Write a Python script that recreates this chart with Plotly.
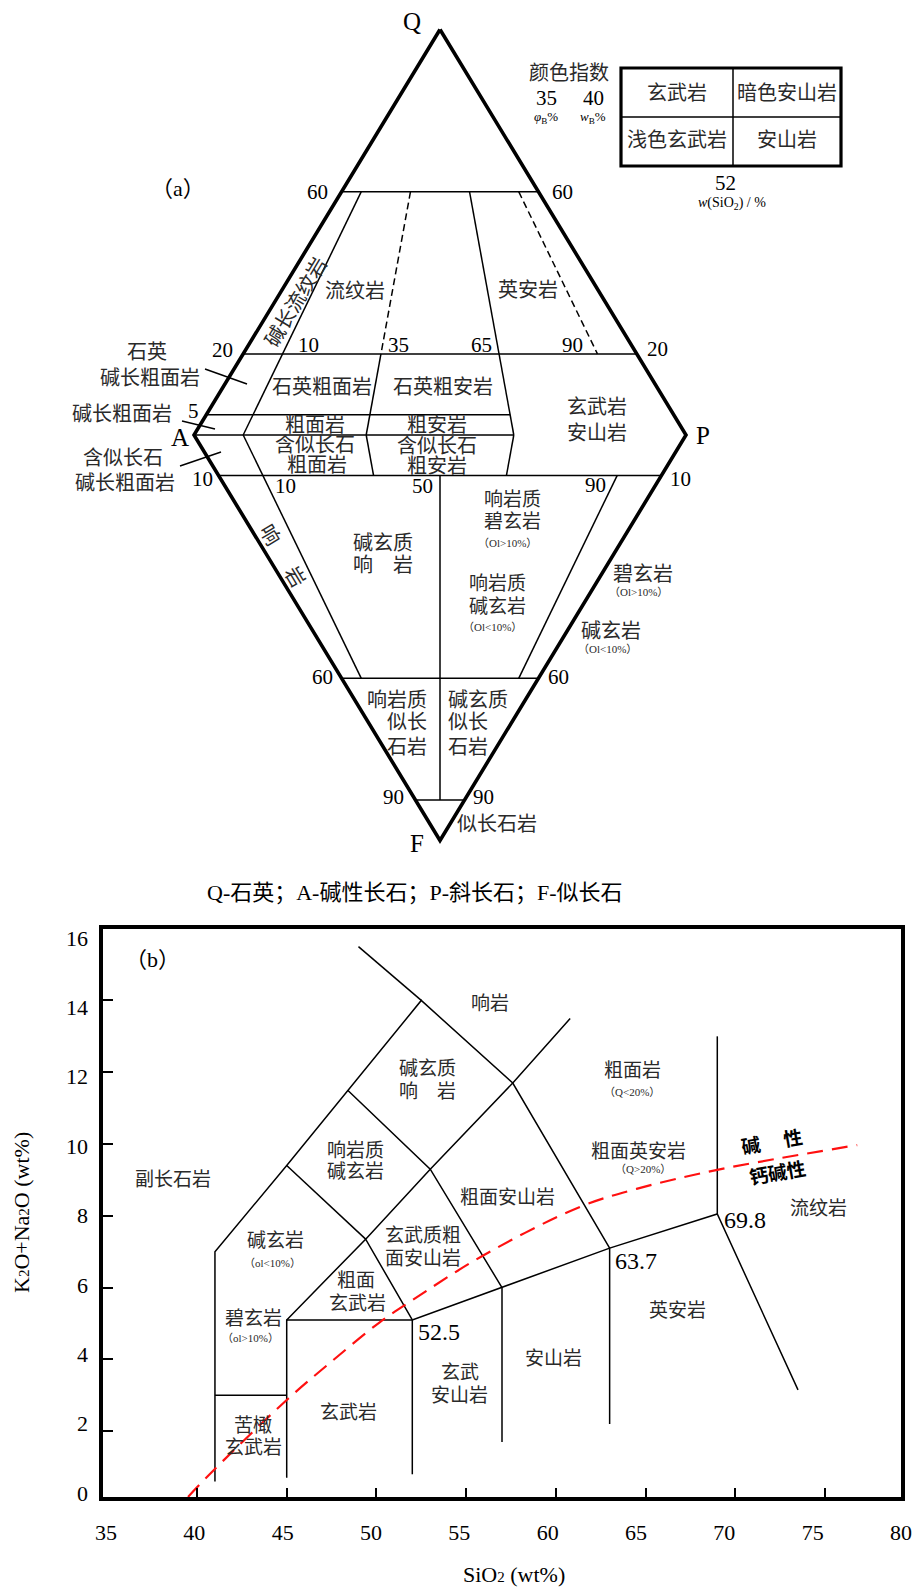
import plotly.graph_objects as go

W, H = 916, 1590
FONT = "'Liberation Serif', 'Noto Sans CJK SC', serif"
TXT = "#2a2a2a"

# ---------------- (a) QAPF data (percentages) ----------------
qapf_q_levels = [60, 20, 5, 0]          # horizontal lines in Q-A-P triangle
qapf_q_ratio_max = [100, 100, 65, 65]   # how far (P/(A+P)) each runs
qapf_f_levels = [10, 60, 90]            # horizontal lines in F-A-P triangle
qapf_upper_ratio = [10, 35, 35, 65, 90]
qapf_upper_from = [60, 60, 20, 60, 60]
qapf_upper_to = [0, 20, 0, 0, 20]
qapf_upper_dashed = [False, True, False, False, True]
qapf_lower_ratio = [10, 35, 65, 50, 90]
qapf_lower_from = [0, 0, 0, 10, 10]
qapf_lower_to = [60, 10, 10, 90, 60]

# ---------------- (b) TAS data ----------------
tas_lines_x = [
    [41, 41, 45, 48.4, 52.5, 57.6, 63],
    [49, 52.5],
    [41, 45],
    [45, 45, 52, 57, 63, 69, 73.5],
    [45, 49.4, 52],
    [49.4, 53, 57.6, 60.8],
    [45, 49.4],
    [48.4, 53, 57],
    [52, 52],
    [57, 57],
    [63, 63],
    [69, 69],
]
tas_lines_y = [
    [0.6, 7, 9.4, 11.5, 14, 11.7, 7.1],
    [15.5, 14],
    [3, 3],
    [0.7, 5.1, 5.1, 6.0, 7.1, 8.05, 3.15],
    [5.1, 7.35, 5.1],
    [7.35, 9.3, 11.7, 13.5],
    [9.4, 7.35],
    [11.5, 9.3, 6.0],
    [0.8, 5.1],
    [1.7, 6.0],
    [2.2, 7.1],
    [8.05, 13],
]
alk_x = [39.5, 40.9, 45, 47.4, 50.2, 52.0, 55.9, 61.35, 64.5, 69, 76.8]
alk_y = [0.17, 0.9, 2.87, 3.9, 5.04, 5.65, 6.88, 8.25, 8.75, 9.28, 9.97]
x_tick_vals = [40, 45, 50, 55, 60, 65, 70, 75]
x_tick_labels = [35, 40, 45, 50, 55, 60, 65, 70, 75, 80]
y_tick_vals = [2, 4, 6, 8, 10, 12, 14]
y_tick_labels = [0, 2, 4, 6, 8, 10, 12, 14, 16]


def qapf_xy(frac, ratio, upper):
    s = frac / 100.0
    t = ratio / 100.0
    return (1 - s) * (2 * t - 1), (s if upper else -s)


fig = go.Figure()


def add_line(xs, ys, width=1.5, dash="solid", color="black", xa="x", ya="y", shape="linear"):
    fig.add_trace(go.Scatter(x=xs, y=ys, mode="lines", xaxis=xa, yaxis=ya,
                             line=dict(color=color, width=width, dash=dash, shape=shape),
                             hoverinfo="skip", showlegend=False))


# outline Q-A-F-P
corners = [qapf_xy(100, 50, True), qapf_xy(0, 0, True), qapf_xy(100, 50, False),
           qapf_xy(0, 100, True), qapf_xy(100, 50, True)]
add_line([c[0] for c in corners], [c[1] for c in corners], width=3.6)

for lev, rmax in zip(qapf_q_levels, qapf_q_ratio_max):
    p0 = qapf_xy(lev, 0, True)
    p1 = qapf_xy(lev, rmax, True)
    add_line([p0[0], p1[0]], [p0[1], p1[1]])
for lev in qapf_f_levels:
    p0 = qapf_xy(lev, 0, False)
    p1 = qapf_xy(lev, 100, False)
    add_line([p0[0], p1[0]], [p0[1], p1[1]])
for r, a, b, d in zip(qapf_upper_ratio, qapf_upper_from, qapf_upper_to, qapf_upper_dashed):
    p0 = qapf_xy(a, r, True)
    p1 = qapf_xy(b, r, True)
    add_line([p0[0], p1[0]], [p0[1], p1[1]], dash=("7px,4px" if d else "solid"))
for r, a, b in zip(qapf_lower_ratio, qapf_lower_from, qapf_lower_to):
    p0 = qapf_xy(a, r, False)
    p1 = qapf_xy(b, r, False)
    add_line([p0[0], p1[0]], [p0[1], p1[1]])

# TAS
for xs, ys in zip(tas_lines_x, tas_lines_y):
    add_line(xs, ys, width=1.5, xa="x2", ya="y2")
add_line(alk_x, alk_y, width=2.2, dash="16px,9px", color="#ff1010", xa="x2", ya="y2", shape="spline")
# invisible anchor for label axes
fig.add_trace(go.Scatter(x=[50], y=[5], xaxis="x3", yaxis="y3", mode="markers",
                         marker=dict(size=1, opacity=0), hoverinfo="skip", showlegend=False))


def pp(px, py):
    return px / W, 1 - py / H


annotations = []


def ann(text, px, py, size=20, color=TXT, xanchor="center", angle=0, yanchor="middle"):
    x, y = pp(px, py)
    annotations.append(dict(text=text, x=x, y=y, xref="paper", yref="paper", showarrow=False,
                            xanchor=xanchor, yanchor=yanchor, textangle=angle,
                            font=dict(size=size, color=color, family=FONT)))


# ---- (a) labels ----
ann("Q", 412, 22, 25, "black")
ann("A", 180, 437, 25, "black")
ann("P", 703, 435, 25, "black")
ann("F", 417, 843, 25, "black")
ann("（a）", 178, 189, 22, "black")
for t, x, y in [("60", 317, 192), ("60", 562, 192), ("20", 222, 350), ("20", 657, 349),
                ("10", 308, 345), ("35", 398, 345), ("65", 482, 345), ("90", 572, 345),
                ("5", 193, 411), ("10", 202, 479), ("10", 285, 486), ("50", 422, 486),
                ("90", 595, 485), ("10", 680, 479), ("60", 322, 677), ("60", 558, 677),
                ("90", 393, 797), ("90", 483, 797)]:
    ann(t, x, y, 21, "black")
ann("流纹岩", 355, 291)
ann("英安岩", 528, 290)
ann("碱长流纹岩", 296, 302, angle=-59)
ann("石英", 147, 352)
ann("碱长粗面岩", 150, 378)
ann("碱长粗面岩", 122, 414)
ann("含似长石", 123, 458)
ann("碱长粗面岩", 125, 483)
ann("石英粗面岩", 322, 387)
ann("石英粗安岩", 443, 387)
ann("粗面岩", 315, 425)
ann("粗安岩", 437, 425)
ann("含似长石", 315, 445)
ann("粗面岩", 317, 465)
ann("含似长石", 437, 446)
ann("粗安岩", 437, 466)
ann("玄武岩", 597, 407)
ann("安山岩", 597, 433)
ann("碱玄质", 383, 543)
ann("响　岩", 383, 565)
ann("响", 270, 535, angle=59)
ann("岩", 295, 577, angle=59)
ann("响岩质", 512, 499, 19)
ann("碧玄岩", 512, 521, 19)
ann("（Ol&gt;10%）", 508, 543, 11)
ann("响岩质", 497, 584, 19)
ann("碱玄岩", 497, 606, 19)
ann("（Ol&lt;10%）", 492, 627, 11)
ann("碧玄岩", 643, 574)
ann("（Ol&gt;10%）", 638, 592, 11)
ann("碱玄岩", 611, 631)
ann("（Ol&lt;10%）", 607, 649, 11)
ann("响岩质", 429, 700, xanchor="right")
ann("似长", 429, 722, xanchor="right")
ann("石岩", 429, 747, xanchor="right")
ann("碱玄质", 446, 700, xanchor="left")
ann("似长", 446, 722, xanchor="left")
ann("石岩", 446, 747, xanchor="left")
ann("似长石岩", 497, 824)
# color index table
ann("颜色指数", 569, 73)
ann("35", 546, 98, 21, "black")
ann("40", 593, 98, 21, "black")
ann("<i>φ</i><sub>B</sub>%", 546, 118, 13, "black")
ann("<i>w</i><sub>B</sub>%", 593, 118, 13, "black")
ann("玄武岩", 677, 93)
ann("暗色安山岩", 787, 93)
ann("浅色玄武岩", 677, 140)
ann("安山岩", 787, 140)
ann("52", 725, 183, 21, "black")
ann("<i>w</i>(SiO<sub>2</sub>) / %", 732, 204, 14, "black")
ann("Q-石英；A-碱性长石；P-斜长石；F-似长石", 415, 892, 22, "black")

# ---- (b) labels ----
ann("（b）", 152, 959, 22, "black")
ann("副长石岩", 173, 1179, 19)
ann("响岩", 490, 1003, 19)
ann("碱玄质", 427, 1068, 19)
ann("响　岩", 427, 1091, 19)
ann("响岩质", 355, 1150, 19)
ann("碱玄岩", 355, 1171, 19)
ann("粗面岩", 632, 1070, 19)
ann("（Q&lt;20%）", 632, 1092, 11)
ann("粗面英安岩", 638, 1151, 19)
ann("（Q&gt;20%）", 643, 1169, 11)
ann("粗面安山岩", 508, 1197, 19)
ann("<b>碱　 性</b>", 772, 1142, 19, "black", angle=-10)
ann("<b>钙碱性</b>", 777, 1173, 19, "black", angle=-10)
ann("流纹岩", 818, 1208, 19)
ann("69.8", 722, 1220, 24, "black", xanchor="left")
ann("碱玄岩", 275, 1240, 19)
ann("（ol&lt;10%）", 272, 1263, 11)
ann("玄武质粗", 423, 1235, 19)
ann("面安山岩", 423, 1258, 19)
ann("粗面", 356, 1280, 19)
ann("玄武岩", 357, 1303, 19)
ann("碧玄岩", 253, 1318, 19)
ann("（ol&gt;10%）", 250, 1338, 11)
ann("52.5", 416, 1332, 24, "black", xanchor="left")
ann("苦橄", 253, 1425, 19)
ann("玄武岩", 253, 1447, 19)
ann("玄武岩", 348, 1412, 19)
ann("玄武", 460, 1372, 19)
ann("安山岩", 460, 1395, 19)
ann("安山岩", 553, 1358, 19)
ann("63.7", 613, 1261, 24, "black", xanchor="left")
ann("英安岩", 677, 1310, 19)
ann('K<span style="font-size:15px">2</span>O+Na<span style="font-size:15px">2</span>O (wt%)',
    21, 1213, 22, "black", angle=-90)
ann('SiO<span style="font-size:15px">2</span> (wt%)', 514, 1589, 22, "black", yanchor="bottom")

# ---- shapes: table and leader lines ----
shapes = []


def seg(x0, y0, x1, y1, w=1.5):
    a = pp(x0, y0)
    b = pp(x1, y1)
    shapes.append(dict(type="line", xref="paper", yref="paper", x0=a[0], y0=a[1], x1=b[0], y1=b[1],
                       line=dict(color="black", width=w)))


r0 = pp(621, 68)
r1 = pp(841, 166)
shapes.append(dict(type="rect", xref="paper", yref="paper", x0=r0[0], y0=r0[1], x1=r1[0], y1=r1[1],
                   line=dict(color="black", width=3.2)))
seg(733, 68, 733, 166)
seg(621, 117, 841, 117)
seg(205, 369, 247, 384)
seg(182, 421, 215, 429)
seg(180, 466, 221, 452)

fig.update_layout(
    width=W, height=H, margin=dict(l=0, r=0, t=0, b=0),
    paper_bgcolor="white", plot_bgcolor="rgba(0,0,0,0)",
    font=dict(family=FONT, color="black"),
    showlegend=False,
    annotations=annotations, shapes=shapes,
    xaxis=dict(domain=[0, 1], range=[-440 / 246, 476 / 246], visible=False, fixedrange=True),
    yaxis=dict(domain=[1 - 860 / H, 1], range=[-425 / 405.5, 435 / 405.5], visible=False, fixedrange=True),
    xaxis2=dict(domain=[103 / W, 901 / W], range=[34.76, 79.24], anchor="y2",
                ticks="inside", tickvals=x_tick_vals, ticklen=9, tickwidth=1.5, tickcolor="black",
                showticklabels=False, showline=True, linewidth=3.5, linecolor="black", mirror=True,
                showgrid=False, zeroline=False, automargin=False),
    yaxis2=dict(domain=[1 - 1497 / H, 1 - 929 / H], range=[0.167, 15.99], anchor="x2",
                ticks="inside", tickvals=y_tick_vals, ticklen=10, tickwidth=1.5, tickcolor="black",
                showticklabels=False, showline=True, linewidth=3.5, linecolor="black", mirror=True,
                showgrid=False, zeroline=False, automargin=False),
    xaxis3=dict(overlaying="x2", anchor="y2", range=[34.83, 80], tickvals=x_tick_labels,
                ticks="", showline=False, showgrid=False, zeroline=False, automargin=False,
                tickfont=dict(size=22, color="black", family=FONT), ticklabelstandoff=20),
    yaxis3=dict(overlaying="y2", anchor="x2", range=[-0.115, 16.26], tickvals=y_tick_labels,
                ticks="", showline=False, showgrid=False, zeroline=False, automargin=False,
                tickfont=dict(size=22, color="black", family=FONT), ticklabelstandoff=14),
)

fig.write_html("out.html")
